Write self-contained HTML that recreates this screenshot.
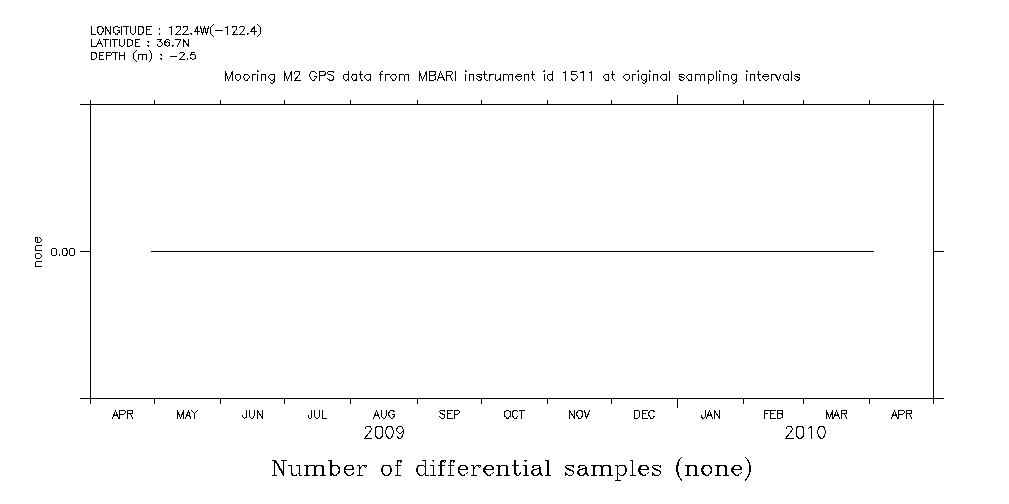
<!DOCTYPE html>
<html><head><meta charset="utf-8"><style>
html,body{margin:0;padding:0;background:#fff;}
svg{display:block;}
</style></head><body>
<svg width="1009" height="504" viewBox="0 0 1009 504">
<rect x="0" y="0" width="1009" height="504" fill="#fff"/>
<path fill="#000" shape-rendering="crispEdges" d="M80 104h864v1h-864zM80 398h864v1h-864zM90 100h1v304h-1zM933 100h1v304h-1zM80 251h10v1h-10zM934 251h10v1h-10zM151 251h723v1h-723zM154 100h1v4h-1zM154 399h1v5h-1zM220 100h1v4h-1zM220 399h1v5h-1zM284 100h1v4h-1zM284 399h1v5h-1zM350 100h1v4h-1zM350 399h1v5h-1zM417 100h1v4h-1zM417 399h1v5h-1zM481 100h1v4h-1zM481 399h1v5h-1zM547 100h1v4h-1zM547 399h1v5h-1zM611 100h1v4h-1zM611 399h1v5h-1zM677 95h1v9h-1zM677 399h1v9h-1zM743 100h1v4h-1zM743 399h1v5h-1zM803 100h1v4h-1zM803 399h1v5h-1zM869 100h1v4h-1zM869 399h1v5h-1z"/>
<g fill="none" stroke="#000" stroke-width="1" stroke-linecap="square" stroke-linejoin="miter" shape-rendering="crispEdges">
<path d="M91.50 26.50 91.50 34.50M91.50 34.50 95.50 34.50M99.50 26.50 98.50 26.50 98.50 27.50 97.50 27.50 97.50 29.50 97.50 30.50 97.50 32.50 98.50 32.50 98.50 33.50 99.50 34.50 101.50 34.50 101.50 33.50 102.50 32.50 102.50 32.50 103.50 30.50 103.50 29.50 102.50 27.50 102.50 27.50 101.50 26.50 101.50 26.50 99.50 26.50M105.50 26.50 105.50 34.50M105.50 26.50 110.50 34.50M110.50 26.50 110.50 34.50M119.50 27.50 118.50 27.50 117.50 26.50 117.50 26.50 115.50 26.50 115.50 26.50 114.50 27.50 113.50 27.50 113.50 29.50 113.50 30.50 113.50 32.50 114.50 32.50 115.50 33.50 115.50 34.50 117.50 34.50 117.50 33.50 118.50 32.50 119.50 32.50 119.50 30.50M117.50 30.50 119.50 30.50M121.50 26.50 121.50 34.50M126.50 26.50 126.50 34.50M123.50 26.50 128.50 26.50M130.50 26.50 130.50 31.50 130.50 32.50 131.50 33.50 132.50 34.50 133.50 34.50 134.50 33.50 135.50 32.50 135.50 31.50 135.50 26.50M138.50 26.50 138.50 34.50M138.50 26.50 141.50 26.50 142.50 26.50 142.50 27.50 143.50 27.50 143.50 29.50 143.50 30.50 143.50 32.50 142.50 32.50 142.50 33.50 141.50 34.50 138.50 34.50M146.50 26.50 146.50 34.50M146.50 26.50 151.50 26.50M146.50 29.50 149.50 29.50M146.50 34.50 151.50 34.50M159.50 28.50 159.50 29.50 159.50 29.50 159.50 29.50 159.50 28.50M159.50 33.50 159.50 33.50 159.50 34.50 159.50 33.50 159.50 33.50M169.50 27.50 170.50 27.50 171.50 26.50 171.50 34.50M176.50 27.50 176.50 27.50 176.50 26.50 176.50 26.50 177.50 26.50 178.50 26.50 179.50 26.50 180.50 26.50 180.50 27.50 180.50 28.50 180.50 29.50 179.50 30.50 175.50 34.50 180.50 34.50M183.50 27.50 183.50 27.50 183.50 26.50 184.50 26.50 184.50 26.50 186.50 26.50 187.50 26.50 187.50 26.50 187.50 27.50 187.50 28.50 187.50 29.50 186.50 30.50 182.50 34.50 188.50 34.50M191.50 33.50 190.50 33.50 191.50 34.50 191.50 33.50 191.50 33.50M197.50 26.50 194.50 31.50 199.50 31.50M197.50 26.50 197.50 34.50M200.50 26.50 202.50 34.50M204.50 26.50 202.50 34.50M204.50 26.50 206.50 34.50M208.50 26.50 206.50 34.50M213.50 24.50 212.50 25.50 211.50 26.50 210.50 27.50 210.50 29.50 210.50 31.50 210.50 33.50 211.50 34.50 212.50 35.50 213.50 36.50M215.50 30.50 222.50 30.50M225.50 27.50 226.50 27.50 227.50 26.50 227.50 34.50M232.50 27.50 232.50 27.50 232.50 26.50 233.50 26.50 234.50 26.50 235.50 26.50 236.50 26.50 236.50 26.50 236.50 27.50 236.50 28.50 236.50 29.50 235.50 30.50 232.50 34.50 237.50 34.50M239.50 27.50 239.50 27.50 240.50 26.50 240.50 26.50 241.50 26.50 242.50 26.50 243.50 26.50 243.50 26.50 244.50 27.50 244.50 28.50 243.50 29.50 243.50 30.50 239.50 34.50 244.50 34.50M247.50 33.50 247.50 33.50 247.50 34.50 248.50 33.50 247.50 33.50M254.50 26.50 250.50 31.50 256.50 31.50M254.50 26.50 254.50 34.50M257.50 24.50 258.50 25.50 259.50 26.50 260.50 27.50 260.50 29.50 260.50 31.50 260.50 33.50 259.50 34.50 258.50 35.50 257.50 36.50M91.50 39.50 91.50 46.50M91.50 46.50 95.50 46.50M99.50 39.50 96.50 46.50M99.50 39.50 102.50 46.50M97.50 43.50 101.50 43.50M105.50 39.50 105.50 46.50M103.50 39.50 108.50 39.50M110.50 39.50 110.50 46.50M114.50 39.50 114.50 46.50M112.50 39.50 117.50 39.50M119.50 39.50 119.50 44.50 119.50 45.50 120.50 45.50 121.50 46.50 122.50 46.50 123.50 45.50 123.50 45.50 124.50 44.50 124.50 39.50M127.50 39.50 127.50 46.50M127.50 39.50 129.50 39.50 130.50 39.50 131.50 40.50 132.50 40.50 132.50 41.50 132.50 43.50 132.50 44.50 131.50 45.50 130.50 45.50 129.50 46.50 127.50 46.50M135.50 39.50 135.50 46.50M135.50 39.50 139.50 39.50M135.50 42.50 137.50 42.50M135.50 46.50 139.50 46.50M148.50 41.50 147.50 41.50 148.50 42.50 148.50 41.50 148.50 41.50M148.50 45.50 147.50 45.50 148.50 46.50 148.50 45.50 148.50 45.50M157.50 39.50 161.50 39.50 159.50 41.50 160.50 41.50 161.50 42.50 161.50 42.50 162.50 43.50 162.50 44.50 161.50 45.50 161.50 45.50 160.50 46.50 158.50 46.50 157.50 45.50 157.50 45.50 157.50 44.50M169.50 40.50 168.50 39.50 167.50 39.50 167.50 39.50 166.50 39.50 165.50 40.50 164.50 42.50 164.50 43.50 165.50 45.50 166.50 45.50 167.50 46.50 167.50 46.50 168.50 45.50 169.50 45.50 169.50 44.50 169.50 43.50 169.50 42.50 168.50 42.50 167.50 41.50 167.50 41.50 166.50 42.50 165.50 42.50 164.50 43.50M172.50 45.50 172.50 45.50 172.50 46.50 173.50 45.50 172.50 45.50M180.50 39.50 177.50 46.50M175.50 39.50 180.50 39.50M183.50 39.50 183.50 46.50M183.50 39.50 188.50 46.50M188.50 39.50 188.50 46.50M91.50 52.50 91.50 59.50M91.50 52.50 94.50 52.50 95.50 52.50 95.50 53.50 96.50 53.50 96.50 54.50 96.50 56.50 96.50 57.50 95.50 58.50 95.50 58.50 94.50 59.50 91.50 59.50M99.50 52.50 99.50 59.50M99.50 52.50 103.50 52.50M99.50 55.50 102.50 55.50M99.50 59.50 103.50 59.50M106.50 52.50 106.50 59.50M106.50 52.50 109.50 52.50 110.50 52.50 110.50 52.50 111.50 53.50 111.50 54.50 110.50 55.50 110.50 55.50 109.50 55.50 106.50 55.50M115.50 52.50 115.50 59.50M112.50 52.50 117.50 52.50M119.50 52.50 119.50 59.50M124.50 52.50 124.50 59.50M119.50 55.50 124.50 55.50M136.50 50.50 135.50 51.50 134.50 52.50 133.50 53.50 133.50 55.50 133.50 56.50 133.50 58.50 134.50 59.50 135.50 60.50 136.50 61.50M138.50 54.50 138.50 59.50M138.50 55.50 139.50 54.50 140.50 54.50 141.50 54.50 142.50 54.50 142.50 55.50 142.50 59.50M142.50 55.50 143.50 54.50 144.50 54.50 145.50 54.50 146.50 54.50 146.50 55.50 146.50 59.50M149.50 50.50 150.50 51.50 150.50 52.50 151.50 53.50 151.50 55.50 151.50 56.50 151.50 58.50 150.50 59.50 150.50 60.50 149.50 61.50M161.50 54.50 160.50 54.50 161.50 55.50 161.50 54.50 161.50 54.50M161.50 58.50 160.50 58.50 161.50 59.50 161.50 58.50 161.50 58.50M170.50 56.50 176.50 56.50M179.50 53.50 179.50 53.50 180.50 52.50 180.50 52.50 181.50 52.50 182.50 52.50 183.50 52.50 183.50 52.50 184.50 53.50 184.50 54.50 183.50 54.50 183.50 55.50 179.50 59.50 184.50 59.50M187.50 58.50 187.50 58.50 187.50 59.50 187.50 58.50 187.50 58.50M194.50 52.50 191.50 52.50 190.50 55.50 191.50 54.50 192.50 54.50 193.50 54.50 194.50 54.50 195.50 55.50 195.50 56.50 195.50 57.50 195.50 58.50 194.50 58.50 193.50 59.50 192.50 59.50 191.50 58.50 190.50 58.50 190.50 57.50M225.50 71.50 225.50 80.50M225.50 71.50 228.50 80.50M232.50 71.50 228.50 80.50M232.50 71.50 232.50 80.50M237.50 74.50 236.50 74.50 235.50 75.50 235.50 76.50 235.50 77.50 235.50 78.50 236.50 79.50 237.50 80.50 238.50 80.50 239.50 79.50 240.50 78.50 240.50 77.50 240.50 76.50 240.50 75.50 239.50 74.50 238.50 74.50 237.50 74.50M245.50 74.50 244.50 74.50 244.50 75.50 243.50 76.50 243.50 77.50 244.50 78.50 244.50 79.50 245.50 80.50 247.50 80.50 247.50 79.50 248.50 78.50 249.50 77.50 249.50 76.50 248.50 75.50 247.50 74.50 247.50 74.50 245.50 74.50M252.50 74.50 252.50 80.50M252.50 76.50 252.50 75.50 253.50 74.50 254.50 74.50 255.50 74.50M257.50 71.50 257.50 71.50 258.50 71.50 257.50 70.50 257.50 71.50M257.50 74.50 257.50 80.50M261.50 74.50 261.50 80.50M261.50 75.50 262.50 74.50 263.50 74.50 264.50 74.50 265.50 74.50 265.50 75.50 265.50 80.50M274.50 74.50 274.50 80.50 273.50 82.50 273.50 82.50 272.50 83.50 271.50 83.50 270.50 82.50M274.50 75.50 273.50 74.50 272.50 74.50 271.50 74.50 270.50 74.50 269.50 75.50 268.50 76.50 268.50 77.50 269.50 78.50 270.50 79.50 271.50 80.50 272.50 80.50 273.50 79.50 274.50 78.50M284.50 71.50 284.50 80.50M284.50 71.50 287.50 80.50M291.50 71.50 287.50 80.50M291.50 71.50 291.50 80.50M294.50 73.50 294.50 72.50 295.50 71.50 295.50 71.50 296.50 71.50 298.50 71.50 299.50 71.50 299.50 71.50 299.50 72.50 299.50 73.50 299.50 74.50 298.50 75.50 294.50 80.50 300.50 80.50M316.50 73.50 315.50 72.50 314.50 71.50 314.50 71.50 312.50 71.50 311.50 71.50 310.50 72.50 310.50 73.50 309.50 74.50 309.50 76.50 310.50 77.50 310.50 78.50 311.50 79.50 312.50 80.50 314.50 80.50 314.50 79.50 315.50 78.50 316.50 77.50 316.50 76.50M314.50 76.50 316.50 76.50M319.50 71.50 319.50 80.50M319.50 71.50 323.50 71.50 324.50 71.50 324.50 71.50 325.50 72.50 325.50 74.50 324.50 74.50 324.50 75.50 323.50 75.50 319.50 75.50M333.50 72.50 333.50 71.50 331.50 71.50 330.50 71.50 328.50 71.50 327.50 72.50 327.50 73.50 328.50 74.50 328.50 74.50 329.50 74.50 332.50 75.50 333.50 76.50 333.50 76.50 333.50 77.50 333.50 78.50 333.50 79.50 331.50 80.50 330.50 80.50 328.50 79.50 327.50 78.50M348.50 71.50 348.50 80.50M348.50 75.50 347.50 74.50 346.50 74.50 345.50 74.50 344.50 74.50 343.50 75.50 343.50 76.50 343.50 77.50 343.50 78.50 344.50 79.50 345.50 80.50 346.50 80.50 347.50 79.50 348.50 78.50M356.50 74.50 356.50 80.50M356.50 75.50 355.50 74.50 355.50 74.50 353.50 74.50 352.50 74.50 352.50 75.50 351.50 76.50 351.50 77.50 352.50 78.50 352.50 79.50 353.50 80.50 355.50 80.50 355.50 79.50 356.50 78.50M360.50 71.50 360.50 78.50 361.50 79.50 361.50 80.50 362.50 80.50M359.50 74.50 362.50 74.50M370.50 74.50 370.50 80.50M370.50 75.50 369.50 74.50 368.50 74.50 367.50 74.50 366.50 74.50 365.50 75.50 364.50 76.50 364.50 77.50 365.50 78.50 366.50 79.50 367.50 80.50 368.50 80.50 369.50 79.50 370.50 78.50M382.50 71.50 382.50 71.50 381.50 71.50 380.50 72.50 380.50 80.50M379.50 74.50 382.50 74.50M385.50 74.50 385.50 80.50M385.50 76.50 385.50 75.50 386.50 74.50 387.50 74.50 389.50 74.50M392.50 74.50 392.50 74.50 391.50 75.50 390.50 76.50 390.50 77.50 391.50 78.50 392.50 79.50 392.50 80.50 394.50 80.50 395.50 79.50 395.50 78.50 396.50 77.50 396.50 76.50 395.50 75.50 395.50 74.50 394.50 74.50 392.50 74.50M399.50 74.50 399.50 80.50M399.50 75.50 400.50 74.50 401.50 74.50 402.50 74.50 403.50 74.50 404.50 75.50 404.50 80.50M404.50 75.50 405.50 74.50 406.50 74.50 407.50 74.50 408.50 74.50 408.50 75.50 408.50 80.50M419.50 71.50 419.50 80.50M419.50 71.50 422.50 80.50M426.50 71.50 422.50 80.50M426.50 71.50 426.50 80.50M429.50 71.50 429.50 80.50M429.50 71.50 433.50 71.50 434.50 71.50 435.50 71.50 435.50 72.50 435.50 73.50 435.50 74.50 434.50 74.50 433.50 75.50M429.50 75.50 433.50 75.50 434.50 75.50 435.50 76.50 435.50 77.50 435.50 78.50 435.50 79.50 434.50 79.50 433.50 80.50 429.50 80.50M440.50 71.50 437.50 80.50M440.50 71.50 444.50 80.50M438.50 77.50 442.50 77.50M446.50 71.50 446.50 80.50M446.50 71.50 450.50 71.50 451.50 71.50 451.50 71.50 452.50 72.50 452.50 73.50 451.50 74.50 451.50 74.50 450.50 75.50 446.50 75.50M449.50 75.50 452.50 80.50M455.50 71.50 455.50 80.50M465.50 71.50 465.50 71.50 466.50 71.50 465.50 70.50 465.50 71.50M465.50 74.50 465.50 80.50M469.50 74.50 469.50 80.50M469.50 75.50 470.50 74.50 471.50 74.50 472.50 74.50 473.50 74.50 473.50 75.50 473.50 80.50M481.50 75.50 481.50 74.50 479.50 74.50 478.50 74.50 477.50 74.50 476.50 75.50 477.50 76.50 478.50 76.50 480.50 77.50 481.50 77.50 481.50 78.50 481.50 78.50 481.50 79.50 479.50 80.50 478.50 80.50 477.50 79.50 476.50 78.50M484.50 71.50 484.50 78.50 485.50 79.50 486.50 80.50 487.50 80.50M483.50 74.50 486.50 74.50M489.50 74.50 489.50 80.50M489.50 76.50 490.50 75.50 490.50 74.50 491.50 74.50 493.50 74.50M495.50 74.50 495.50 78.50 495.50 79.50 496.50 80.50 497.50 80.50 498.50 79.50 500.50 78.50M500.50 74.50 500.50 80.50M503.50 74.50 503.50 80.50M503.50 75.50 504.50 74.50 505.50 74.50 506.50 74.50 507.50 74.50 508.50 75.50 508.50 80.50M508.50 75.50 509.50 74.50 510.50 74.50 511.50 74.50 512.50 74.50 512.50 75.50 512.50 80.50M515.50 76.50 521.50 76.50 521.50 75.50 520.50 74.50 520.50 74.50 519.50 74.50 518.50 74.50 517.50 74.50 516.50 75.50 515.50 76.50 515.50 77.50 516.50 78.50 517.50 79.50 518.50 80.50 519.50 80.50 520.50 79.50 521.50 78.50M524.50 74.50 524.50 80.50M524.50 75.50 525.50 74.50 526.50 74.50 527.50 74.50 528.50 74.50 528.50 75.50 528.50 80.50M532.50 71.50 532.50 78.50 533.50 79.50 534.50 80.50 534.50 80.50M531.50 74.50 534.50 74.50M543.50 71.50 544.50 71.50 544.50 71.50 544.50 70.50 543.50 71.50M544.50 74.50 544.50 80.50M552.50 71.50 552.50 80.50M552.50 75.50 551.50 74.50 550.50 74.50 549.50 74.50 548.50 74.50 547.50 75.50 547.50 76.50 547.50 77.50 547.50 78.50 548.50 79.50 549.50 80.50 550.50 80.50 551.50 79.50 552.50 78.50M563.50 72.50 564.50 72.50 565.50 71.50 565.50 80.50M576.50 71.50 571.50 71.50 571.50 74.50 571.50 74.50 573.50 74.50 574.50 74.50 575.50 74.50 576.50 75.50 577.50 76.50 577.50 77.50 576.50 78.50 575.50 79.50 574.50 80.50 573.50 80.50 571.50 79.50 571.50 79.50 571.50 78.50M580.50 72.50 581.50 72.50 583.50 71.50 583.50 80.50M589.50 72.50 590.50 72.50 591.50 71.50 591.50 80.50M608.50 74.50 608.50 80.50M608.50 75.50 608.50 74.50 607.50 74.50 605.50 74.50 605.50 74.50 604.50 75.50 603.50 76.50 603.50 77.50 604.50 78.50 605.50 79.50 605.50 80.50 607.50 80.50 608.50 79.50 608.50 78.50M612.50 71.50 612.50 78.50 613.50 79.50 614.50 80.50 614.50 80.50M611.50 74.50 614.50 74.50M626.50 74.50 625.50 74.50 624.50 75.50 623.50 76.50 623.50 77.50 624.50 78.50 625.50 79.50 626.50 80.50 627.50 80.50 628.50 79.50 629.50 78.50 629.50 77.50 629.50 76.50 629.50 75.50 628.50 74.50 627.50 74.50 626.50 74.50M632.50 74.50 632.50 80.50M632.50 76.50 632.50 75.50 633.50 74.50 634.50 74.50 635.50 74.50M637.50 71.50 638.50 71.50 638.50 71.50 638.50 70.50 637.50 71.50M638.50 74.50 638.50 80.50M646.50 74.50 646.50 80.50 645.50 82.50 645.50 82.50 644.50 83.50 643.50 83.50 642.50 82.50M646.50 75.50 645.50 74.50 644.50 74.50 643.50 74.50 642.50 74.50 641.50 75.50 641.50 76.50 641.50 77.50 641.50 78.50 642.50 79.50 643.50 80.50 644.50 80.50 645.50 79.50 646.50 78.50M649.50 71.50 649.50 71.50 650.50 71.50 649.50 70.50 649.50 71.50M649.50 74.50 649.50 80.50M653.50 74.50 653.50 80.50M653.50 75.50 654.50 74.50 655.50 74.50 656.50 74.50 657.50 74.50 657.50 75.50 657.50 80.50M666.50 74.50 666.50 80.50M666.50 75.50 665.50 74.50 664.50 74.50 663.50 74.50 662.50 74.50 661.50 75.50 660.50 76.50 660.50 77.50 661.50 78.50 662.50 79.50 663.50 80.50 664.50 80.50 665.50 79.50 666.50 78.50M669.50 71.50 669.50 80.50M684.50 75.50 683.50 74.50 682.50 74.50 681.50 74.50 679.50 74.50 679.50 75.50 679.50 76.50 680.50 76.50 682.50 77.50 683.50 77.50 684.50 78.50 684.50 78.50 683.50 79.50 682.50 80.50 681.50 80.50 679.50 79.50 679.50 78.50M691.50 74.50 691.50 80.50M691.50 75.50 691.50 74.50 690.50 74.50 688.50 74.50 688.50 74.50 687.50 75.50 686.50 76.50 686.50 77.50 687.50 78.50 688.50 79.50 688.50 80.50 690.50 80.50 691.50 79.50 691.50 78.50M695.50 74.50 695.50 80.50M695.50 75.50 696.50 74.50 697.50 74.50 698.50 74.50 699.50 74.50 700.50 75.50 700.50 80.50M700.50 75.50 701.50 74.50 702.50 74.50 703.50 74.50 704.50 74.50 704.50 75.50 704.50 80.50M708.50 74.50 708.50 83.50M708.50 75.50 709.50 74.50 710.50 74.50 711.50 74.50 712.50 74.50 713.50 75.50 713.50 76.50 713.50 77.50 713.50 78.50 712.50 79.50 711.50 80.50 710.50 80.50 709.50 79.50 708.50 78.50M716.50 71.50 716.50 80.50M719.50 71.50 719.50 71.50 720.50 71.50 719.50 70.50 719.50 71.50M719.50 74.50 719.50 80.50M723.50 74.50 723.50 80.50M723.50 75.50 724.50 74.50 725.50 74.50 726.50 74.50 727.50 74.50 728.50 75.50 728.50 80.50M736.50 74.50 736.50 80.50 735.50 82.50 735.50 82.50 734.50 83.50 733.50 83.50 732.50 82.50M736.50 75.50 735.50 74.50 734.50 74.50 733.50 74.50 732.50 74.50 731.50 75.50 731.50 76.50 731.50 77.50 731.50 78.50 732.50 79.50 733.50 80.50 734.50 80.50 735.50 79.50 736.50 78.50M746.50 71.50 746.50 71.50 747.50 71.50 746.50 70.50 746.50 71.50M746.50 74.50 746.50 80.50M750.50 74.50 750.50 80.50M750.50 75.50 751.50 74.50 752.50 74.50 753.50 74.50 754.50 74.50 754.50 75.50 754.50 80.50M758.50 71.50 758.50 78.50 759.50 79.50 759.50 80.50 760.50 80.50M757.50 74.50 760.50 74.50M762.50 76.50 768.50 76.50 768.50 75.50 767.50 74.50 767.50 74.50 766.50 74.50 765.50 74.50 764.50 74.50 763.50 75.50 762.50 76.50 762.50 77.50 763.50 78.50 764.50 79.50 765.50 80.50 766.50 80.50 767.50 79.50 768.50 78.50M771.50 74.50 771.50 80.50M771.50 76.50 771.50 75.50 772.50 74.50 773.50 74.50 774.50 74.50M775.50 74.50 778.50 80.50M780.50 74.50 778.50 80.50M788.50 74.50 788.50 80.50M788.50 75.50 787.50 74.50 786.50 74.50 785.50 74.50 784.50 74.50 783.50 75.50 783.50 76.50 783.50 77.50 783.50 78.50 784.50 79.50 785.50 80.50 786.50 80.50 787.50 79.50 788.50 78.50M791.50 71.50 791.50 80.50M799.50 75.50 799.50 74.50 797.50 74.50 796.50 74.50 795.50 74.50 794.50 75.50 795.50 76.50 796.50 76.50 798.50 77.50 799.50 77.50 799.50 78.50 799.50 78.50 799.50 79.50 797.50 80.50 796.50 80.50 795.50 79.50 794.50 78.50M115.50 410.50 112.50 418.50M115.50 410.50 118.50 418.50M113.50 415.50 117.50 415.50M119.50 410.50 119.50 418.50M119.50 410.50 123.50 410.50 124.50 410.50 124.50 410.50 125.50 411.50 125.50 412.50 124.50 413.50 124.50 413.50 123.50 414.50 119.50 414.50M127.50 410.50 127.50 418.50M127.50 410.50 130.50 410.50 131.50 410.50 132.50 410.50 132.50 411.50 132.50 412.50 132.50 413.50 131.50 413.50 130.50 413.50 127.50 413.50M130.50 413.50 132.50 418.50M177.50 410.50 177.50 418.50M177.50 410.50 180.50 418.50M183.50 410.50 180.50 418.50M183.50 410.50 183.50 418.50M188.50 410.50 185.50 418.50M188.50 410.50 190.50 418.50M186.50 415.50 189.50 415.50M191.50 410.50 194.50 413.50 194.50 418.50M197.50 410.50 194.50 413.50M246.50 410.50 246.50 416.50 246.50 417.50 245.50 417.50 244.50 418.50 244.50 418.50 243.50 417.50 243.50 417.50 242.50 416.50 242.50 415.50M249.50 410.50 249.50 415.50 249.50 416.50 250.50 417.50 251.50 418.50 252.50 418.50 253.50 417.50 253.50 416.50 254.50 415.50 254.50 410.50M257.50 410.50 257.50 418.50M257.50 410.50 262.50 418.50M262.50 410.50 262.50 418.50M311.50 410.50 311.50 416.50 311.50 417.50 311.50 417.50 310.50 418.50 309.50 418.50 308.50 417.50 308.50 417.50 308.50 416.50 308.50 415.50M314.50 410.50 314.50 415.50 314.50 416.50 315.50 417.50 316.50 418.50 317.50 418.50 318.50 417.50 319.50 416.50 319.50 415.50 319.50 410.50M322.50 410.50 322.50 418.50M322.50 418.50 326.50 418.50M376.50 410.50 373.50 418.50M376.50 410.50 379.50 418.50M374.50 415.50 378.50 415.50M381.50 410.50 381.50 415.50 381.50 416.50 382.50 417.50 383.50 418.50 384.50 418.50 385.50 417.50 385.50 416.50 386.50 415.50 386.50 410.50M394.50 411.50 393.50 411.50 393.50 410.50 392.50 410.50 391.50 410.50 390.50 410.50 389.50 411.50 389.50 411.50 388.50 413.50 388.50 414.50 389.50 416.50 389.50 416.50 390.50 417.50 391.50 418.50 392.50 418.50 393.50 417.50 393.50 416.50 394.50 416.50 394.50 414.50M392.50 414.50 394.50 414.50M444.50 411.50 444.50 410.50 443.50 410.50 441.50 410.50 440.50 410.50 439.50 411.50 439.50 411.50 440.50 412.50 440.50 413.50 441.50 413.50 443.50 414.50 444.50 414.50 444.50 414.50 444.50 415.50 444.50 416.50 444.50 417.50 443.50 418.50 441.50 418.50 440.50 417.50 439.50 416.50M447.50 410.50 447.50 418.50M447.50 410.50 452.50 410.50M447.50 413.50 450.50 413.50M447.50 418.50 452.50 418.50M454.50 410.50 454.50 418.50M454.50 410.50 457.50 410.50 458.50 410.50 458.50 410.50 459.50 411.50 459.50 412.50 458.50 413.50 458.50 413.50 457.50 414.50 454.50 414.50M506.50 410.50 506.50 410.50 505.50 411.50 504.50 411.50 504.50 413.50 504.50 414.50 504.50 416.50 505.50 416.50 506.50 417.50 506.50 418.50 508.50 418.50 508.50 417.50 509.50 416.50 510.50 416.50 510.50 414.50 510.50 413.50 510.50 411.50 509.50 411.50 508.50 410.50 508.50 410.50 506.50 410.50M517.50 411.50 517.50 411.50 516.50 410.50 516.50 410.50 514.50 410.50 513.50 410.50 513.50 411.50 512.50 411.50 512.50 413.50 512.50 414.50 512.50 416.50 513.50 416.50 513.50 417.50 514.50 418.50 516.50 418.50 516.50 417.50 517.50 416.50 517.50 416.50M521.50 410.50 521.50 418.50M519.50 410.50 524.50 410.50M569.50 410.50 569.50 418.50M569.50 410.50 574.50 418.50M574.50 410.50 574.50 418.50M578.50 410.50 578.50 410.50 577.50 411.50 577.50 411.50 576.50 413.50 576.50 414.50 577.50 416.50 577.50 416.50 578.50 417.50 578.50 418.50 580.50 418.50 581.50 417.50 581.50 416.50 582.50 416.50 582.50 414.50 582.50 413.50 582.50 411.50 581.50 411.50 581.50 410.50 580.50 410.50 578.50 410.50M584.50 410.50 586.50 418.50M589.50 410.50 586.50 418.50M634.50 410.50 634.50 418.50M634.50 410.50 637.50 410.50 638.50 410.50 639.50 411.50 639.50 411.50 639.50 413.50 639.50 414.50 639.50 416.50 639.50 416.50 638.50 417.50 637.50 418.50 634.50 418.50M642.50 410.50 642.50 418.50M642.50 410.50 647.50 410.50M642.50 413.50 645.50 413.50M642.50 418.50 647.50 418.50M654.50 411.50 653.50 411.50 653.50 410.50 652.50 410.50 650.50 410.50 650.50 410.50 649.50 411.50 649.50 411.50 648.50 413.50 648.50 414.50 649.50 416.50 649.50 416.50 650.50 417.50 650.50 418.50 652.50 418.50 653.50 417.50 653.50 416.50 654.50 416.50M705.50 410.50 705.50 416.50 704.50 417.50 704.50 417.50 703.50 418.50 702.50 418.50 702.50 417.50 701.50 417.50 701.50 416.50 701.50 415.50M709.50 410.50 706.50 418.50M709.50 410.50 712.50 418.50M707.50 415.50 711.50 415.50M714.50 410.50 714.50 418.50M714.50 410.50 719.50 418.50M719.50 410.50 719.50 418.50M764.50 410.50 764.50 418.50M764.50 410.50 769.50 410.50M764.50 413.50 767.50 413.50M770.50 410.50 770.50 418.50M770.50 410.50 775.50 410.50M770.50 413.50 773.50 413.50M770.50 418.50 775.50 418.50M777.50 410.50 777.50 418.50M777.50 410.50 780.50 410.50 781.50 410.50 782.50 410.50 782.50 411.50 782.50 412.50 782.50 413.50 781.50 413.50 780.50 413.50M777.50 413.50 780.50 413.50 781.50 414.50 782.50 414.50 782.50 415.50 782.50 416.50 782.50 417.50 781.50 417.50 780.50 418.50 777.50 418.50M826.50 410.50 826.50 418.50M826.50 410.50 829.50 418.50M832.50 410.50 829.50 418.50M832.50 410.50 832.50 418.50M836.50 410.50 833.50 418.50M836.50 410.50 839.50 418.50M835.50 415.50 838.50 415.50M841.50 410.50 841.50 418.50M841.50 410.50 844.50 410.50 845.50 410.50 846.50 410.50 846.50 411.50 846.50 412.50 846.50 413.50 845.50 413.50 844.50 413.50 841.50 413.50M844.50 413.50 846.50 418.50M894.50 410.50 891.50 418.50M894.50 410.50 897.50 418.50M892.50 415.50 896.50 415.50M898.50 410.50 898.50 418.50M898.50 410.50 902.50 410.50 903.50 410.50 903.50 410.50 904.50 411.50 904.50 412.50 903.50 413.50 903.50 413.50 902.50 414.50 898.50 414.50M906.50 410.50 906.50 418.50M906.50 410.50 909.50 410.50 910.50 410.50 911.50 410.50 911.50 411.50 911.50 412.50 911.50 413.50 910.50 413.50 909.50 413.50 906.50 413.50M909.50 413.50 911.50 418.50M365.50 428.50 365.50 428.50 365.50 427.50 366.50 426.50 367.50 426.50 369.50 426.50 370.50 426.50 370.50 427.50 371.50 428.50 371.50 429.50 370.50 430.50 369.50 432.50 364.50 438.50 371.50 438.50M378.50 426.50 376.50 426.50 375.50 428.50 375.50 431.50 375.50 432.50 375.50 435.50 376.50 437.50 378.50 438.50 379.50 438.50 381.50 437.50 382.50 435.50 382.50 432.50 382.50 431.50 382.50 428.50 381.50 426.50 379.50 426.50 378.50 426.50M389.50 426.50 387.50 426.50 386.50 428.50 385.50 431.50 385.50 432.50 386.50 435.50 387.50 437.50 389.50 438.50 390.50 438.50 391.50 437.50 392.50 435.50 393.50 432.50 393.50 431.50 392.50 428.50 391.50 426.50 390.50 426.50 389.50 426.50M403.50 430.50 402.50 431.50 401.50 432.50 400.50 433.50 399.50 433.50 398.50 432.50 397.50 431.50 396.50 430.50 396.50 429.50 397.50 427.50 398.50 426.50 399.50 426.50 400.50 426.50 401.50 426.50 402.50 427.50 403.50 430.50 403.50 432.50 402.50 435.50 401.50 437.50 400.50 438.50 399.50 438.50 397.50 437.50 397.50 436.50M786.50 428.50 786.50 428.50 786.50 427.50 787.50 426.50 788.50 426.50 790.50 426.50 791.50 426.50 791.50 427.50 792.50 428.50 792.50 429.50 791.50 430.50 790.50 432.50 785.50 438.50 793.50 438.50M799.50 426.50 797.50 426.50 796.50 428.50 796.50 431.50 796.50 432.50 796.50 435.50 797.50 437.50 799.50 438.50 800.50 438.50 802.50 437.50 803.50 435.50 803.50 432.50 803.50 431.50 803.50 428.50 802.50 426.50 800.50 426.50 799.50 426.50M808.50 428.50 809.50 427.50 811.50 426.50 811.50 438.50M821.50 426.50 819.50 426.50 818.50 428.50 817.50 431.50 817.50 432.50 818.50 435.50 819.50 437.50 821.50 438.50 822.50 438.50 823.50 437.50 824.50 435.50 825.50 432.50 825.50 431.50 824.50 428.50 823.50 426.50 822.50 426.50 821.50 426.50M53.50 248.50 52.50 248.50 51.50 249.50 51.50 251.50 51.50 252.50 51.50 254.50 52.50 255.50 53.50 255.50 54.50 255.50 55.50 255.50 56.50 254.50 56.50 252.50 56.50 251.50 56.50 249.50 55.50 248.50 54.50 248.50 53.50 248.50M59.50 254.50 59.50 255.50 59.50 255.50 59.50 255.50 59.50 254.50M64.50 248.50 63.50 248.50 62.50 249.50 62.50 251.50 62.50 252.50 62.50 254.50 63.50 255.50 64.50 255.50 65.50 255.50 66.50 255.50 66.50 254.50 67.50 252.50 67.50 251.50 66.50 249.50 66.50 248.50 65.50 248.50 64.50 248.50M71.50 248.50 70.50 248.50 69.50 249.50 69.50 251.50 69.50 252.50 69.50 254.50 70.50 255.50 71.50 255.50 72.50 255.50 73.50 255.50 74.50 254.50 74.50 252.50 74.50 251.50 74.50 249.50 73.50 248.50 72.50 248.50 71.50 248.50"/>
<path d="M274.50 460.50 274.50 475.50M275.50 460.50 283.50 473.50M275.50 461.50 283.50 475.50M283.50 460.50 283.50 475.50M272.50 460.50 275.50 460.50M281.50 460.50 286.50 460.50M272.50 475.50 276.50 475.50M291.50 465.50 291.50 472.50 291.50 474.50 293.50 475.50 295.50 475.50 297.50 474.50 299.50 472.50M291.50 465.50 291.50 472.50 292.50 474.50 293.50 475.50M299.50 465.50 299.50 475.50M299.50 465.50 299.50 475.50M288.50 465.50 291.50 465.50M296.50 465.50 299.50 465.50M299.50 475.50 301.50 475.50M306.50 465.50 306.50 475.50M307.50 465.50 307.50 475.50M307.50 467.50 309.50 465.50 311.50 465.50 312.50 465.50 314.50 465.50 315.50 467.50 315.50 475.50M312.50 465.50 314.50 465.50 314.50 467.50 314.50 475.50M315.50 467.50 316.50 465.50 319.50 465.50 320.50 465.50 322.50 465.50 323.50 467.50 323.50 475.50M320.50 465.50 321.50 465.50 322.50 467.50 322.50 475.50M304.50 465.50 307.50 465.50M304.50 475.50 309.50 475.50M312.50 475.50 317.50 475.50M320.50 475.50 325.50 475.50M330.50 460.50 330.50 475.50M331.50 460.50 331.50 475.50M331.50 467.50 332.50 465.50 334.50 465.50 335.50 465.50 337.50 465.50 339.50 467.50 339.50 469.50 339.50 470.50 339.50 472.50 337.50 474.50 335.50 475.50 334.50 475.50 332.50 474.50 331.50 472.50M335.50 465.50 336.50 465.50 338.50 467.50 339.50 469.50 339.50 470.50 338.50 472.50 336.50 474.50 335.50 475.50M328.50 460.50 331.50 460.50M344.50 469.50 353.50 469.50 353.50 467.50 352.50 466.50 352.50 465.50 350.50 465.50 348.50 465.50 346.50 465.50 344.50 467.50 344.50 469.50 344.50 470.50 344.50 472.50 346.50 474.50 348.50 475.50 349.50 475.50 352.50 474.50 353.50 472.50M352.50 469.50 352.50 467.50 352.50 465.50M348.50 465.50 347.50 465.50 345.50 467.50 344.50 469.50 344.50 470.50 345.50 472.50 347.50 474.50 348.50 475.50M359.50 465.50 359.50 475.50M359.50 465.50 359.50 475.50M359.50 469.50 360.50 467.50 362.50 465.50 363.50 465.50 365.50 465.50 366.50 465.50 366.50 466.50 365.50 467.50 364.50 466.50 365.50 465.50M357.50 465.50 359.50 465.50M357.50 475.50 362.50 475.50M385.50 465.50 383.50 465.50 382.50 467.50 381.50 469.50 381.50 470.50 382.50 472.50 383.50 474.50 385.50 475.50 387.50 475.50 389.50 474.50 390.50 472.50 391.50 470.50 391.50 469.50 390.50 467.50 389.50 465.50 387.50 465.50 385.50 465.50M385.50 465.50 384.50 465.50 382.50 467.50 382.50 469.50 382.50 470.50 382.50 472.50 384.50 474.50 385.50 475.50M387.50 475.50 388.50 474.50 390.50 472.50 390.50 470.50 390.50 469.50 390.50 467.50 388.50 465.50 387.50 465.50M400.50 460.50 400.50 461.50 400.50 462.50 401.50 461.50 401.50 460.50 400.50 460.50 399.50 460.50 397.50 460.50 397.50 462.50 397.50 475.50M399.50 460.50 398.50 460.50 397.50 462.50 397.50 475.50M395.50 465.50 400.50 465.50M395.50 475.50 400.50 475.50M425.50 460.50 425.50 475.50M425.50 460.50 425.50 475.50M425.50 467.50 423.50 465.50 422.50 465.50 420.50 465.50 418.50 465.50 417.50 467.50 416.50 469.50 416.50 470.50 417.50 472.50 418.50 474.50 420.50 475.50 422.50 475.50 423.50 474.50 425.50 472.50M420.50 465.50 419.50 465.50 417.50 467.50 417.50 469.50 417.50 470.50 417.50 472.50 419.50 474.50 420.50 475.50M422.50 460.50 425.50 460.50M425.50 475.50 428.50 475.50M433.50 460.50 432.50 460.50 433.50 461.50 433.50 460.50 433.50 460.50M433.50 465.50 433.50 475.50M433.50 465.50 433.50 475.50M430.50 465.50 433.50 465.50M430.50 475.50 435.50 475.50M444.50 460.50 443.50 461.50 444.50 462.50 445.50 461.50 445.50 460.50 444.50 460.50 443.50 460.50 441.50 460.50 440.50 462.50 440.50 475.50M443.50 460.50 442.50 460.50 441.50 462.50 441.50 475.50M438.50 465.50 444.50 465.50M438.50 475.50 443.50 475.50M453.50 460.50 453.50 461.50 453.50 462.50 454.50 461.50 454.50 460.50 453.50 460.50 452.50 460.50 450.50 460.50 450.50 462.50 450.50 475.50M452.50 460.50 451.50 460.50 450.50 462.50 450.50 475.50M448.50 465.50 453.50 465.50M448.50 475.50 453.50 475.50M458.50 469.50 467.50 469.50 467.50 467.50 466.50 466.50 465.50 465.50 464.50 465.50 462.50 465.50 460.50 465.50 458.50 467.50 458.50 469.50 458.50 470.50 458.50 472.50 460.50 474.50 462.50 475.50 463.50 475.50 465.50 474.50 467.50 472.50M466.50 469.50 466.50 467.50 465.50 465.50M462.50 465.50 460.50 465.50 459.50 467.50 458.50 469.50 458.50 470.50 459.50 472.50 460.50 474.50 462.50 475.50M473.50 465.50 473.50 475.50M473.50 465.50 473.50 475.50M473.50 469.50 474.50 467.50 476.50 465.50 477.50 465.50 479.50 465.50 480.50 465.50 480.50 466.50 479.50 467.50 478.50 466.50 479.50 465.50M471.50 465.50 473.50 465.50M471.50 475.50 476.50 475.50M484.50 469.50 493.50 469.50 493.50 467.50 492.50 466.50 491.50 465.50 490.50 465.50 488.50 465.50 486.50 465.50 484.50 467.50 483.50 469.50 483.50 470.50 484.50 472.50 486.50 474.50 488.50 475.50 489.50 475.50 491.50 474.50 493.50 472.50M492.50 469.50 492.50 467.50 491.50 465.50M488.50 465.50 486.50 465.50 485.50 467.50 484.50 469.50 484.50 470.50 485.50 472.50 486.50 474.50 488.50 475.50M498.50 465.50 498.50 475.50M499.50 465.50 499.50 475.50M499.50 467.50 501.50 465.50 503.50 465.50 504.50 465.50 506.50 465.50 507.50 467.50 507.50 475.50M504.50 465.50 506.50 465.50 506.50 467.50 506.50 475.50M496.50 465.50 499.50 465.50M496.50 475.50 501.50 475.50M504.50 475.50 509.50 475.50M514.50 460.50 514.50 472.50 515.50 474.50 516.50 475.50 518.50 475.50 519.50 474.50 520.50 472.50M515.50 460.50 515.50 472.50 516.50 474.50 516.50 475.50M512.50 465.50 518.50 465.50M525.50 460.50 524.50 460.50 525.50 461.50 526.50 460.50 525.50 460.50M525.50 465.50 525.50 475.50M526.50 465.50 526.50 475.50M523.50 465.50 526.50 465.50M523.50 475.50 528.50 475.50M533.50 466.50 533.50 467.50 532.50 467.50 532.50 466.50 533.50 465.50 534.50 465.50 537.50 465.50 539.50 465.50 539.50 466.50 540.50 467.50 540.50 472.50 541.50 474.50 541.50 475.50M539.50 466.50 539.50 472.50 540.50 474.50 541.50 475.50 542.50 475.50M539.50 467.50 539.50 468.50 534.50 469.50 532.50 470.50 531.50 471.50 531.50 472.50 532.50 474.50 534.50 475.50 536.50 475.50 538.50 474.50 539.50 472.50M534.50 469.50 533.50 470.50 532.50 471.50 532.50 472.50 533.50 474.50 534.50 475.50M547.50 460.50 547.50 475.50M548.50 460.50 548.50 475.50M545.50 460.50 548.50 460.50M545.50 475.50 550.50 475.50M572.50 466.50 573.50 465.50 573.50 467.50 572.50 466.50 572.50 465.50 570.50 465.50 567.50 465.50 566.50 465.50 565.50 466.50 565.50 467.50 566.50 468.50 567.50 469.50 571.50 470.50 572.50 471.50 573.50 472.50M565.50 467.50 566.50 467.50 567.50 468.50 571.50 470.50 572.50 470.50 573.50 471.50 573.50 473.50 572.50 474.50 571.50 475.50 568.50 475.50 567.50 474.50 566.50 473.50 565.50 472.50 565.50 475.50 566.50 473.50M579.50 466.50 579.50 467.50 578.50 467.50 578.50 466.50 579.50 465.50 580.50 465.50 583.50 465.50 584.50 465.50 585.50 466.50 586.50 467.50 586.50 472.50 587.50 474.50 587.50 475.50M585.50 466.50 585.50 472.50 586.50 474.50 587.50 475.50 588.50 475.50M585.50 467.50 584.50 468.50 580.50 469.50 578.50 470.50 577.50 471.50 577.50 472.50 578.50 474.50 580.50 475.50 582.50 475.50 584.50 474.50 585.50 472.50M580.50 469.50 579.50 470.50 578.50 471.50 578.50 472.50 579.50 474.50 580.50 475.50M593.50 465.50 593.50 475.50M594.50 465.50 594.50 475.50M594.50 467.50 595.50 465.50 597.50 465.50 599.50 465.50 601.50 465.50 602.50 467.50 602.50 475.50M599.50 465.50 600.50 465.50 601.50 467.50 601.50 475.50M602.50 467.50 603.50 465.50 605.50 465.50 607.50 465.50 609.50 465.50 610.50 467.50 610.50 475.50M607.50 465.50 608.50 465.50 609.50 467.50 609.50 475.50M591.50 465.50 594.50 465.50M591.50 475.50 596.50 475.50M599.50 475.50 604.50 475.50M607.50 475.50 612.50 475.50M617.50 465.50 617.50 480.50M617.50 465.50 617.50 480.50M617.50 467.50 619.50 465.50 620.50 465.50 622.50 465.50 624.50 465.50 625.50 467.50 626.50 469.50 626.50 470.50 625.50 472.50 624.50 474.50 622.50 475.50 620.50 475.50 619.50 474.50 617.50 472.50M622.50 465.50 623.50 465.50 625.50 467.50 625.50 469.50 625.50 470.50 625.50 472.50 623.50 474.50 622.50 475.50M615.50 465.50 617.50 465.50M615.50 480.50 620.50 480.50M632.50 460.50 632.50 475.50M632.50 460.50 632.50 475.50M630.50 460.50 632.50 460.50M630.50 475.50 635.50 475.50M639.50 469.50 648.50 469.50 648.50 467.50 647.50 466.50 646.50 465.50 645.50 465.50 643.50 465.50 640.50 465.50 639.50 467.50 638.50 469.50 638.50 470.50 639.50 472.50 640.50 474.50 643.50 475.50 644.50 475.50 646.50 474.50 648.50 472.50M647.50 469.50 647.50 467.50 646.50 465.50M643.50 465.50 641.50 465.50 640.50 467.50 639.50 469.50 639.50 470.50 640.50 472.50 641.50 474.50 643.50 475.50M659.50 466.50 660.50 465.50 660.50 467.50 659.50 466.50 658.50 465.50 657.50 465.50 654.50 465.50 653.50 465.50 652.50 466.50 652.50 467.50 653.50 468.50 654.50 469.50 658.50 470.50 659.50 471.50 660.50 472.50M652.50 467.50 653.50 467.50 654.50 468.50 658.50 470.50 659.50 470.50 660.50 471.50 660.50 473.50 659.50 474.50 658.50 475.50 655.50 475.50 653.50 474.50 653.50 473.50 652.50 472.50 652.50 475.50 653.50 473.50M681.50 457.50 680.50 458.50 678.50 460.50 677.50 463.50 676.50 467.50 676.50 470.50 677.50 473.50 678.50 476.50 680.50 478.50 681.50 480.50M680.50 458.50 678.50 461.50 678.50 463.50 677.50 467.50 677.50 470.50 678.50 473.50 678.50 475.50 680.50 478.50M687.50 465.50 687.50 475.50M688.50 465.50 688.50 475.50M688.50 467.50 689.50 465.50 691.50 465.50 693.50 465.50 695.50 465.50 696.50 467.50 696.50 475.50M693.50 465.50 694.50 465.50 695.50 467.50 695.50 475.50M685.50 465.50 688.50 465.50M685.50 475.50 690.50 475.50M693.50 475.50 698.50 475.50M706.50 465.50 703.50 465.50 702.50 467.50 701.50 469.50 701.50 470.50 702.50 472.50 703.50 474.50 706.50 475.50 707.50 475.50 709.50 474.50 711.50 472.50 711.50 470.50 711.50 469.50 711.50 467.50 709.50 465.50 707.50 465.50 706.50 465.50M706.50 465.50 704.50 465.50 703.50 467.50 702.50 469.50 702.50 470.50 703.50 472.50 704.50 474.50 706.50 475.50M707.50 475.50 708.50 474.50 710.50 472.50 711.50 470.50 711.50 469.50 710.50 467.50 708.50 465.50 707.50 465.50M717.50 465.50 717.50 475.50M718.50 465.50 718.50 475.50M718.50 467.50 719.50 465.50 721.50 465.50 723.50 465.50 725.50 465.50 726.50 467.50 726.50 475.50M723.50 465.50 724.50 465.50 725.50 467.50 725.50 475.50M715.50 465.50 718.50 465.50M715.50 475.50 720.50 475.50M723.50 475.50 728.50 475.50M732.50 469.50 741.50 469.50 741.50 467.50 740.50 466.50 739.50 465.50 738.50 465.50 736.50 465.50 734.50 465.50 732.50 467.50 731.50 469.50 731.50 470.50 732.50 472.50 734.50 474.50 736.50 475.50 737.50 475.50 739.50 474.50 741.50 472.50M740.50 469.50 740.50 467.50 739.50 465.50M736.50 465.50 734.50 465.50 733.50 467.50 732.50 469.50 732.50 470.50 733.50 472.50 734.50 474.50 736.50 475.50M745.50 457.50 746.50 458.50 748.50 460.50 749.50 463.50 750.50 467.50 750.50 470.50 749.50 473.50 748.50 476.50 746.50 478.50 745.50 480.50M746.50 458.50 748.50 461.50 749.50 463.50 749.50 467.50 749.50 470.50 749.50 473.50 748.50 475.50 746.50 478.50"/>
<path transform="translate(0,267) rotate(-90)" d="M0.50 35.50 0.50 41.50M0.50 36.50 1.50 35.50 2.50 35.50 3.50 35.50 4.50 35.50 5.50 36.50 5.50 41.50M10.50 35.50 9.50 35.50 8.50 36.50 8.50 37.50 8.50 38.50 8.50 39.50 9.50 40.50 10.50 41.50 11.50 41.50 12.50 40.50 13.50 39.50 13.50 38.50 13.50 37.50 13.50 36.50 12.50 35.50 11.50 35.50 10.50 35.50M16.50 35.50 16.50 41.50M16.50 36.50 17.50 35.50 18.50 35.50 20.50 35.50 20.50 35.50 21.50 36.50 21.50 41.50M24.50 37.50 29.50 37.50 29.50 36.50 29.50 35.50 28.50 35.50 27.50 35.50 26.50 35.50 25.50 35.50 24.50 36.50 24.50 37.50 24.50 38.50 24.50 39.50 25.50 40.50 26.50 41.50 27.50 41.50 28.50 40.50 29.50 39.50"/>
</g>
</svg>
</body></html>
